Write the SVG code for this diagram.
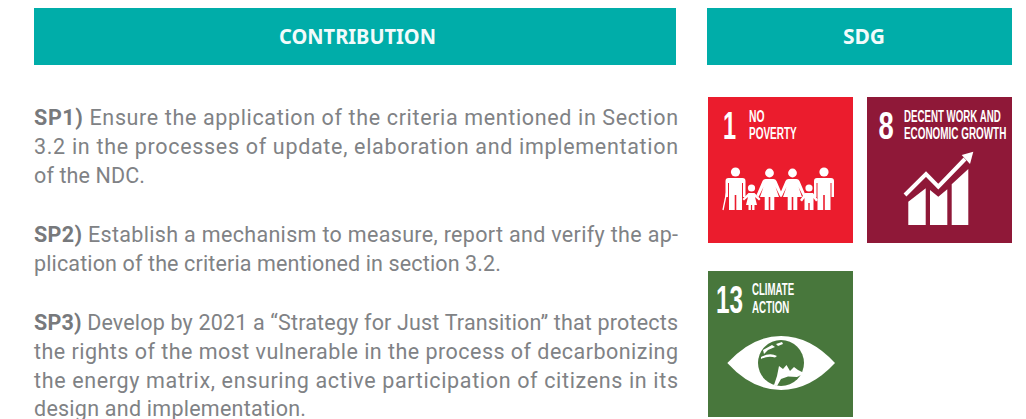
<svg xmlns="http://www.w3.org/2000/svg" width="1026" height="419" viewBox="0 0 1026 419">
<style>
.hd{fill:#00ada9}
.ht{font:bold 21px "Noto Sans","Open Sans",sans-serif;fill:#f2fbfb;text-anchor:middle}
.b{font:21.500px Roboto,"Noto Sans",sans-serif;fill:#808285}
.b tspan{font-weight:bold;fill:#77797c}
.n{font:bold 38px "Liberation Sans",sans-serif;fill:#fff}
.l{font:bold 16px "Liberation Sans",sans-serif;fill:#fff}
.w{fill:#fff}
</style>
<defs>
<g id="man"><circle cx="0" cy="-38" r="4.600"/><path d="M-7-32H7Q10-32 10-29V-13H7.500V-27H6.500V0H.8V-15H-.8V0H-6.500V-27H-7.500V-13H-10V-29Q-10-32-7-32Z"/></g>
<g id="woman"><circle cx="0" cy="-37" r="4.400"/><path d="M-4-31H4Q6-31 7-29L13-15 11-13 6-23 9.500-13H4.800V0H.8V-13H-.8V0H-4.800V-13H-9.500L-6-23-11-13-13-15-7-29Q-6-31-4-31Z"/></g>
<g id="girl"><circle cx="0" cy="-22" r="3.600"/><path d="M-3-17H3L9-11 7.500-9.500 3.500-13 5.500-5H3V0H.6V-5H-.6V0H-3V-5H-5.500L-3.500-13-7.500-9.500-9-11Z"/></g>
<g id="boy"><circle cx="0" cy="-22" r="3.600"/><path d="M-4-17H4L9-10 7-8.500 4.500-12V0H.7V-7H-.7V0H-4.500V-12L-7-8.500-9-10Z"/></g>
</defs>
<g id="header-contribution"><rect class="hd" x="34" y="8" width="642" height="57"/><text class="ht" x="357.500" y="44" textLength="157" lengthAdjust="spacingAndGlyphs">CONTRIBUTION</text></g>
<g id="header-sdg"><rect class="hd" x="707" y="8" width="305" height="57"/><text class="ht" x="864" y="43.500">SDG</text></g>
<g id="sp1">
<text class="b" x="34" y="125" textLength="644"><tspan>SP1)</tspan> Ensure the application of the criteria mentioned in Section</text>
<text class="b" x="34" y="154" textLength="644">3.2 in the processes of update, elaboration and implementation</text>
<text class="b" x="34" y="183" textLength="111">of the NDC.</text>
</g>
<g id="sp2">
<text class="b" x="34" y="242" textLength="644"><tspan>SP2)</tspan> Establish a mechanism to measure, report and verify the ap-</text>
<text class="b" x="34" y="271" textLength="467">plication of the criteria mentioned in section 3.2.</text>
</g>
<g id="sp3">
<text class="b" x="34" y="330" textLength="644"><tspan>SP3)</tspan> Develop by 2021 a “Strategy for Just Transition” that protects</text>
<text class="b" x="34" y="359" textLength="644">the rights of the most vulnerable in the process of decarbonizing</text>
<text class="b" x="34" y="388" textLength="644">the energy matrix, ensuring active participation of citizens in its</text>
<text class="b" x="34" y="416" textLength="272">design and implementation.</text>
</g>
<g id="sdg1">
<rect x="708" y="97" width="145" height="146" fill="#eb1c2d"/>
<text class="n" transform="translate(723 139) scale(.62 1)">1</text>
<text class="l" transform="translate(749 122) scale(.62 1)" textLength="25" lengthAdjust="spacingAndGlyphs">NO</text>
<text class="l" transform="translate(749 139) scale(.62 1)" textLength="77" lengthAdjust="spacingAndGlyphs">POVERTY</text>
<g class="w">
<use href="#man" x="735.500" y="210"/><path d="M726.500 193 723 210" stroke="#fff" stroke-width="1.300"/>
<use href="#girl" x="751.500" y="210"/>
<use href="#woman" x="769.500" y="210"/>
<use href="#woman" x="792.500" y="210"/>
<use href="#boy" x="809" y="210"/>
<use href="#man" x="824" y="210"/>
</g>
</g>
<g id="sdg8">
<rect x="867" y="97" width="145" height="146" fill="#8f1838"/>
<text class="n" transform="translate(878.500 138.500) scale(.72 1)">8</text>
<text class="l" transform="translate(904 122) scale(.62 1)" textLength="156" lengthAdjust="spacingAndGlyphs">DECENT WORK AND</text>
<text class="l" transform="translate(904 139) scale(.62 1)" textLength="165" lengthAdjust="spacingAndGlyphs">ECONOMIC GROWTH</text>
<path class="w" d="M908.300 201.700 925.700 188.300V225H908.300ZM930 190 938.300 196.700 947.300 189.300V225H930ZM951.700 184.300 968.300 169V225H951.700Z"/>
<path d="M905 195 926 174 938.300 186.700 965 159" fill="none" stroke="#fff" stroke-width="4"/>
<path class="w" d="M973.300 151.700 961.700 155 970 164Z"/>
</g>
<g id="sdg13">
<rect x="708" y="271" width="145" height="146" fill="#48773c"/>
<text class="n" transform="translate(716 313) scale(.64 1)">13</text>
<text class="l" transform="translate(752 295) scale(.62 1)" textLength="68" lengthAdjust="spacingAndGlyphs">CLIMATE</text>
<text class="l" transform="translate(752 313) scale(.62 1)" textLength="60" lengthAdjust="spacingAndGlyphs">ACTION</text>
<path class="w" d="M727.300 363Q752 336 781 336T835 363Q810 390 781 390T727.300 363Z"/>
<circle cx="781" cy="363" r="23" fill="#48773c"/>
<path class="w" d="M779 366 783 369 786.500 365 790 371 794 367 798 370 802 372 803 374 797 377 788 376.500 781 379 777 386 774 385 777 376ZM761 357Q770 352 777 356L775 357.500Q768 355.500 761 359ZM763 350 772 345 775 347 768 350 764 354ZM776 344 782 342 783 344 778 346Z"/>
</g>
</svg>
